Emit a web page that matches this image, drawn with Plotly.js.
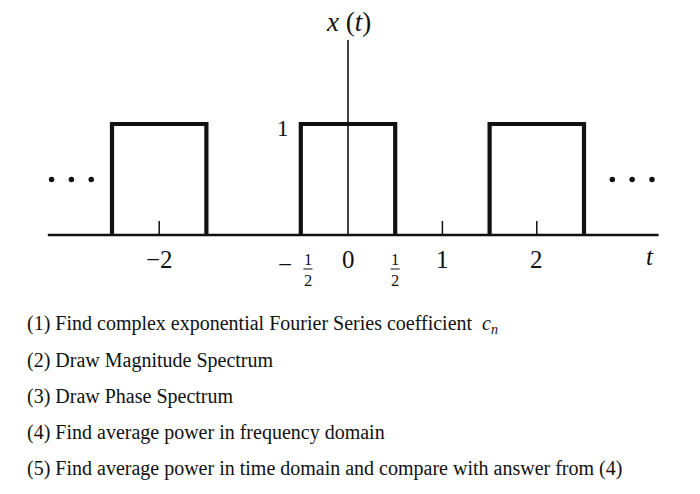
<!DOCTYPE html>
<html>
<head>
<meta charset="utf-8">
<script src="https://cdn.plot.ly/plotly-3.0.1.min.js"></script>
<style>html,body{margin:0;padding:0;background:#fff;}#chart{width:700px;height:494px;}</style>
</head>
<body>
<div id="chart"></div>
<script>
// ---- data ----
const pulseStarts = [-2.5, -0.5, 1.5];
const pulseEnds = [-1.5, 0.5, 2.5];
const amplitude = 1;
const tickPositions = [-2, 1, 2];
const tickLabelPositions = [-2, 0, 1, 2];
const tickLabels = ["\u22122", "0", "1", "2"];
const halfPositions = [-0.5, 0.5];
const dotsLeft = [-3.14, -2.93, -2.72];
const dotsRight = [2.80, 3.01, 3.22];
const dotLevel = 0.5;
const tAxisExtent = [-3.18, 3.29];
const xAxisTop = 1.757;
const questions = [
  "(1) Find complex exponential Fourier Series coefficient  <i>c</i><sub><i>n</i></sub>",
  "(2) Draw Magnitude Spectrum",
  "(3) Draw Phase Spectrum",
  "(4) Find average power in frequency domain",
  "(5) Find average power in time domain and compare with answer from (4)"
];

// ---- build traces ----
const ink = "#111111";
const px = [], py = [];
pulseStarts.forEach((s, i) => {
  const e = pulseEnds[i];
  px.push(s, s, e, e, null);
  py.push(0, amplitude, amplitude, 0, null);
});
const tickLen = 0.126;
const tx = [], ty = [];
tickPositions.forEach(p => { tx.push(p, p, null); ty.push(0, tickLen, null); });

const traces = [
  {x: tAxisExtent, y: [0, 0], mode: "lines", line: {color: ink, width: 2.5}, hoverinfo: "skip"},
  {x: [0, 0], y: [0, xAxisTop], mode: "lines", line: {color: ink, width: 1.6}, hoverinfo: "skip"},
  {x: tx, y: ty, mode: "lines", line: {color: ink, width: 1.5}, hoverinfo: "skip"},
  {x: px, y: py, mode: "lines", line: {color: ink, width: 4.2}, hoverinfo: "skip"},
  {x: dotsLeft.concat(dotsRight), y: dotsLeft.concat(dotsRight).map(() => dotLevel),
   mode: "markers", marker: {color: ink, size: 5.5}, hoverinfo: "skip"}
];

const serif = "Liberation Serif";
const ann = [];
const labY = -0.225;
tickLabelPositions.forEach((p, i) => {
  ann.push({x: p, y: labY, xref: "x", yref: "y", text: tickLabels[i], showarrow: false,
    font: {family: serif, size: 25, color: ink}, xanchor: "center", yanchor: "middle"});
});
// fractions 1/2 (stacked numerator/denominator in one text, bar drawn as a shape)
const fracY = -0.316, barY = -0.306;
const fracOffsets = [0.076, 0];
const shapes = [];
halfPositions.forEach((h, i) => {
  const fx = h + fracOffsets[i];
  ann.push({x: fx, y: fracY, xref: "x", yref: "y", text: "1<br>2", showarrow: false,
    font: {family: serif, size: 16.5, color: ink}, xanchor: "center", yanchor: "middle", align: "center"});
  shapes.push({type: "line", xref: "x", yref: "y", x0: fx - 0.048, x1: fx + 0.048, y0: barY, y1: barY,
    line: {color: ink, width: 1}});
  if (h < 0) {
    ann.push({x: h - 0.17, y: -0.265, xref: "x", yref: "y", text: "\u2212", showarrow: false,
      font: {family: serif, size: 25, color: ink}, xanchor: "center", yanchor: "middle"});
  }
});
ann.push({x: 3.199, y: -0.198, xref: "x", yref: "y", text: "<i>t</i>", showarrow: false,
  font: {family: serif, size: 25, color: ink}, xanchor: "center", yanchor: "middle"});
ann.push({x: 0, y: 1.919, xref: "x", yref: "y", text: "<i>x</i> (<i>t</i>)", showarrow: false,
  font: {family: serif, size: 27, color: ink}, xanchor: "center", yanchor: "middle"});
ann.push({x: -0.689, y: 0.964, xref: "x", yref: "y", text: "1", showarrow: false,
  font: {family: serif, size: 23, color: ink}, xanchor: "center", yanchor: "middle"});

const lineY = [324, 360, 396, 432, 468];
questions.forEach((q, i) => {
  ann.push({x: 25 / 700, y: 1 - lineY[i] / 494, xref: "paper", yref: "paper", text: q, showarrow: false,
    font: {family: serif, size: 20, color: ink}, xanchor: "left", yanchor: "middle"});
});

const layout = {
  width: 700, height: 494,
  margin: {l: 0, r: 0, t: 0, b: 0},
  paper_bgcolor: "#ffffff", plot_bgcolor: "#ffffff",
  showlegend: false,
  xaxis: {range: [-348 / 94.4, 352 / 94.4], visible: false, fixedrange: true},
  yaxis: {range: [-259 / 111, 235 / 111], visible: false, fixedrange: true},
  annotations: ann,
  shapes: shapes
};
Plotly.newPlot("chart", traces, layout, {staticPlot: true, displayModeBar: false});
</script>
</body>
</html>
